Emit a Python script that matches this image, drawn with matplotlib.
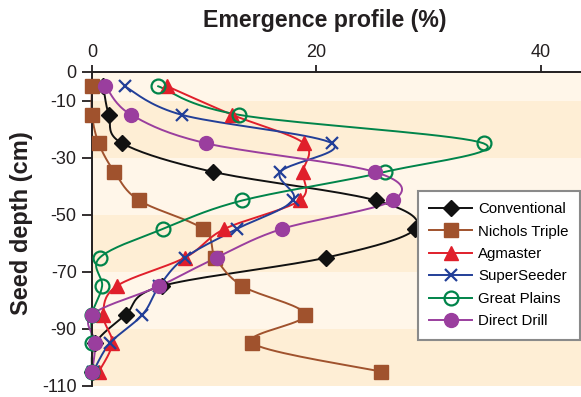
import numpy as np
import matplotlib
matplotlib.use("Agg")
import matplotlib.pyplot as plt
from matplotlib.lines import Line2D

plt.rcParams['font.family'] = ['Liberation Sans', 'DejaVu Sans']

depth = [-5, -15, -25, -35, -45, -55, -65, -75, -85, -95, -105]
conventional = [1.0, 1.5, 2.7, 10.8, 25.3, 28.8, 20.9, 6.2, 3.0, 0.3, 0.0]
nichols = [0.0, 0.0, 0.6, 2.0, 4.2, 9.9, 11.0, 13.4, 19.0, 14.3, 25.8]
agmaster = [6.7, 12.5, 18.9, 18.8, 18.5, 11.8, 8.3, 2.2, 1.0, 1.8, 0.6]
superseeder = [2.9, 8.0, 21.4, 16.8, 17.9, 12.9, 8.3, 6.0, 4.5, 1.6, 0.1]
great_plains = [5.9, 13.1, 34.9, 26.1, 13.4, 6.3, 0.7, 0.9, 0.0, 0.0, 0.0]
direct_drill = [1.2, 3.5, 10.2, 25.2, 26.8, 16.9, 11.1, 6.0, 0.0, 0.3, 0.0]

series = [
    ("Conventional", conventional, "#111111", dict(marker="D", ms=8.5, mfc="#111111", mec="#111111")),
    ("Nichols Triple", nichols, "#A0522D", dict(marker="s", ms=9.5, mfc="#A0522D", mec="#A0522D")),
    ("Agmaster", agmaster, "#E01F2B", dict(marker="^", ms=10, mfc="#E01F2B", mec="#E01F2B")),
    ("SuperSeeder", superseeder, "#223F98", dict(marker="x", ms=9, mew=1.6, mec="#223F98")),
    ("Great Plains", great_plains, "#00844A", dict(marker="o", ms=10, mfc="none", mew=1.6, mec="#00844A")),
    ("Direct Drill", direct_drill, "#9A3E9E", dict(marker="o", ms=10, mfc="#9A3E9E", mec="#9A3E9E")),
]

SX, SY = 11.22, 2.85  # screen scaling for smoothing


def smooth(xs, ys, n=20):
    P = np.column_stack([np.asarray(xs) * SX, np.asarray(ys) * SY])
    out = []
    m = len(P)
    for i in range(m - 1):
        p0 = P[i - 1] if i > 0 else P[i]
        p1 = P[i]
        p2 = P[i + 1]
        p3 = P[i + 2] if i + 2 < m else P[i + 1]
        c1 = p1 + (p2 - p0) / 6.0
        c2 = p2 - (p3 - p1) / 6.0
        t = np.linspace(0, 1, n)[:, None]
        seg = ((1 - t) ** 3) * p1 + 3 * ((1 - t) ** 2) * t * c1 + 3 * (1 - t) * t ** 2 * c2 + t ** 3 * p2
        out.append(seg if i == 0 else seg[1:])
    out = np.vstack(out)
    return out[:, 0] / SX, out[:, 1] / SY


fig = plt.figure(figsize=(5.81, 3.97), dpi=100)
ax = fig.add_axes([92 / 581, 1 - 386 / 397, 489 / 581, 314 / 397])
ax.set_xlim(0, 489 / SX)
ax.set_ylim(-110, 0)

light, dark = "#FFF6E9", "#FEEED5"
bands = [(0, -10, light), (-10, -30, dark), (-30, -50, light), (-50, -70, dark), (-70, -90, light), (-90, -110, dark)]
for top, bot, c in bands:
    ax.axhspan(bot, top, color=c, lw=0, zorder=0)

handles = []
for name, vals, col, mk in series:
    sx, sy = smooth(vals, depth)
    ax.plot(sx, sy, color=col, lw=1.4, zorder=2, clip_on=False)
    ax.plot(vals, depth, ls="none", zorder=3, clip_on=False, **mk)
    handles.append(Line2D([], [], color=col, lw=1.4, **mk))

ax.xaxis.tick_top()
ax.set_xticks([0, 20, 40])
ax.set_yticks([0, -10, -30, -50, -70, -90, -110])
ax.set_yticklabels(["0", "-10", "-30", "-50", "-70", "-90", "-110"])
ax.tick_params(axis="x", direction="out", length=5, width=1.3, labelsize=13, pad=3, colors="#231F20")
ax.tick_params(axis="y", direction="out", length=7, width=1.3, labelsize=13, pad=4, colors="#231F20")
for s in ["right", "bottom"]:
    ax.spines[s].set_visible(False)
for s in ["left", "top"]:
    ax.spines[s].set_linewidth(1.4)
    ax.spines[s].set_color("#231F20")

fig.text(325 / 581, 1 - 21 / 397, "Emergence profile (%)", ha="center", va="center",
         fontsize=16.7, fontweight="bold", color="#231F20")
fig.text(22 / 581, 1 - 223 / 397, "Seed depth (cm)", ha="center", va="center", rotation=90,
         fontsize=17, fontweight="bold", color="#231F20")

leg = ax.legend(handles, [s[0] for s in series], loc="upper right",
                bbox_to_anchor=((580 - 92) / 489, 1 - (191 - 72) / 314), borderaxespad=0,
                fancybox=False, framealpha=1, facecolor="white", edgecolor="#8A8A8A",
                fontsize=10.8, labelspacing=0.56, handlelength=2.9, handletextpad=0.4,
                borderpad=0.75)
leg.get_frame().set_linewidth(1.5)
leg.set_zorder(5)

fig.savefig("out.png", dpi=100)
